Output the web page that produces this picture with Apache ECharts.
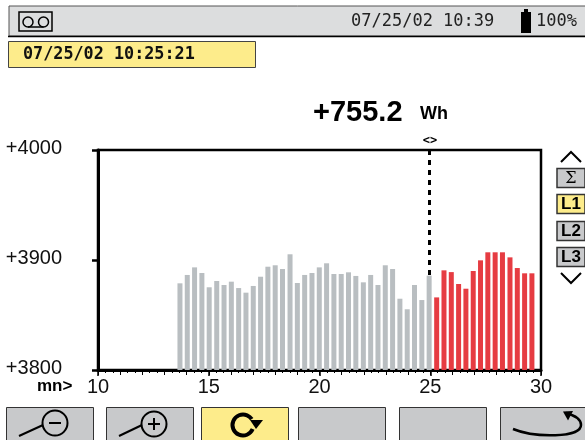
<!DOCTYPE html>
<html><head><meta charset="utf-8">
<style>html,body{margin:0;padding:0;background:#fff}#c{width:585px;height:440px}</style>
<script src="https://cdn.jsdelivr.net/npm/echarts@6/dist/echarts.min.js"></script>
</head><body><div id="c"></div>
<script>
const greyMinutes=[13.70,14.03,14.36,14.69,15.02,15.36,15.69,16.02,16.35,16.68,17.01,17.34,17.67,18.00,18.33,18.67,19.00,19.33,19.66,19.99,20.32,20.65,20.98,21.31,21.64,21.98,22.31,22.64,22.97,23.30,23.63,23.96,24.29,24.62,24.95];
const greyValues=[3878.8,3886.4,3893.3,3888.2,3875.2,3880.9,3877.3,3880.3,3874.5,3870.3,3876.4,3884.8,3893.9,3895.2,3891.8,3905.2,3879.1,3886.4,3888.2,3893.3,3897,3887.3,3887.3,3888.8,3885.5,3879.7,3886.4,3877.3,3895.2,3891.8,3864.8,3855.2,3877.3,3863.6,3885.8];
const redMinutes=[25.29,25.62,25.95,26.28,26.61,26.94,27.27,27.60,27.93,28.26,28.60,28.93,29.26,29.59];
const redValues=[3866,3890.6,3889,3878.2,3873.9,3890,3899.7,3907,3907,3907,3902.4,3892.7,3887.9,3887.9];
const cursorMinute=24.95, cursorValue=3885.8;
const headerTexts={clock:'07/25/02 10:39',battery:'100%',record:'07/25/02 10:25:21',reading:'+755.2',unit:'Wh',cursor:'<>',axis:'mn>'};
const phases=['Σ','L1','L2','L3'];

const zip=(xs,ys)=>xs.map((x,i)=>[x,ys[i]]);
const BTN='#c8c9cb', YEL='#fdec8b', INK='#000';
const rect=(x,y,w,h,fill,stroke,lw)=>({type:'rect',shape:{x,y,width:w,height:h},style:{fill,stroke:stroke||null,lineWidth:lw||0},silent:true});
const text=(x,y,t,font,fill,align)=>({type:'text',x,y,style:{text:t,font,fill:fill||INK,align:align||'left',verticalAlign:'middle'},silent:true});
const line=(x1,y1,x2,y2,lw)=>({type:'line',shape:{x1,y1,x2,y2},style:{stroke:INK,lineWidth:lw||2},silent:true});
const poly=(pts,lw)=>({type:'polyline',shape:{points:pts},style:{stroke:INK,lineWidth:lw||2,fill:null},silent:true});
const circ=(cx,cy,r,lw)=>({type:'circle',shape:{cx,cy,r},style:{stroke:INK,lineWidth:lw||2,fill:null},silent:true});

const g=[];
// header
g.push(rect(9,6,577,30,'#dcddde','#555',1), line(8,36.5,585,36.5,1.5));
g.push(rect(19,12,33,19,'#dcddde',INK,1.5), circ(28,22,5,1.5), circ(43.5,22,5,1.5), line(28,27,43.5,27,1.5));
g.push(text(351,22,headerTexts.clock,'17px "DejaVu Sans Mono"','#222'));
g.push(rect(521,12,10,21,INK), rect(524,9,4,3,INK));
g.push(text(536,22,headerTexts.battery,'17px "DejaVu Sans Mono"','#222'));
g.push(rect(8.5,41.5,247,26,YEL,'#444',1));
g.push(text(23,55,headerTexts.record,'bold 16.8px "DejaVu Sans Mono"','#111'));
// reading
g.push(text(313,113,headerTexts.reading,'bold 29px "Liberation Sans"'));
g.push(text(420,114,headerTexts.unit,'bold 18px "Liberation Sans"'));
g.push(text(430,140.5,headerTexts.cursor,'bold 12px "DejaVu Sans Mono"',INK,'center'));
g.push(text(37,386,headerTexts.axis,'bold 17px "Liberation Sans"'));
// phase selector
g.push(poly([[561,162],[571,152],[581,162]],2));
[168,194,221,247].forEach((y,i)=>{
  g.push(rect(557,y+.5,28,19,i===1?YEL:BTN,'#333',1.5));
  g.push(text(571,y+10.5,phases[i],i===0?'16px "DejaVu Serif"':'bold 17px "Liberation Sans"',INK,'center'));
});
g.push(poly([[561,273],[571,283],[581,273]],2));
// buttons
[[6,87],[106,87],[201,87],[298,87],[399,87],[500,90]].forEach((b,i)=>{
  g.push(rect(b[0]+.5,407.5,b[1],40,i===2?YEL:BTN,'#333',1));
});
g.push(line(19,436,43,425,2), circ(55,423,12.5,2), line(49,423,61,423,2));
g.push(line(119,436,142,425,2), circ(154,424,12.5,2), line(148,424,160,424,2), line(154,418,154,430,2));
g.push({type:'arc',shape:{cx:243,cy:425,r:10.5,startAngle:0.4,endAngle:5.7,clockwise:true},style:{stroke:INK,lineWidth:4,fill:null},silent:true});
g.push({type:'polygon',shape:{points:[[250,420],[263,420],[256,429]]},style:{fill:INK},silent:true});
g.push({type:'bezierCurve',shape:{x1:513,y1:429,cpx1:535,cpy1:438,cpx2:581,cpy2:438,x2:581,y2:425},style:{stroke:INK,lineWidth:2.5,fill:null},silent:true});
g.push({type:'bezierCurve',shape:{x1:581,y1:425,cpx1:581,cpy1:417,x2:566,y2:413},style:{stroke:INK,lineWidth:2.5,fill:null},silent:true});
g.push({type:'polygon',shape:{points:[[563,411.5],[573,411],[568,420.5]]},style:{fill:INK},silent:true});

const chart=echarts.init(document.getElementById('c'),null,{renderer:'canvas'});
chart.setOption({
  animation:false,backgroundColor:'#fff',
  grid:{left:98,right:44,top:150,bottom:70,show:true,borderColor:INK,borderWidth:2.5,backgroundColor:'transparent'},
  xAxis:[{type:'value',min:10,max:30,interval:5,
    axisLine:{onZero:false,lineStyle:{color:INK,width:3}},
    axisTick:{length:6,lineStyle:{color:INK,width:1.5}},
    minorTick:{show:true,splitNumber:15,length:3,lineStyle:{color:INK,width:1}},
    splitLine:{show:false},minorSplitLine:{show:false},
    axisLabel:{color:'#111',fontFamily:'Liberation Sans',fontSize:20,margin:7}},
    {type:'value',position:'bottom',min:10,max:30,interval:1,
    axisLine:{show:false,onZero:false},axisTick:{show:true,length:5,lineStyle:{color:INK,width:1}},
    axisLabel:{show:false},splitLine:{show:false}}],
  yAxis:{type:'value',min:3800,max:4000,interval:100,
    axisLine:{show:true,lineStyle:{color:INK,width:3}},
    axisTick:{show:true,length:6,lineStyle:{color:INK,width:2.5}},
    splitLine:{show:false},
    axisLabel:{color:'#111',fontFamily:'Liberation Sans',fontSize:20,margin:36,align:'right',verticalAlign:'bottom',lineHeight:4,
      formatter:v=>'+'+v}},
  series:[
    {type:'bar',name:'grey',data:zip(greyMinutes,greyValues),barWidth:5,barGap:'-100%',itemStyle:{color:'#b9bec1'},
     markLine:{silent:true,symbol:'none',label:{show:false},lineStyle:{color:INK,type:[5,5],width:3},
       data:[[{coord:[cursorMinute,4000]},{coord:[cursorMinute,cursorValue]}]]}},
    {type:'bar',name:'red',data:zip(redMinutes,redValues),barWidth:5,barGap:'-100%',itemStyle:{color:'#e63c42'}}
  ],
  graphic:g
});
</script></body></html>
